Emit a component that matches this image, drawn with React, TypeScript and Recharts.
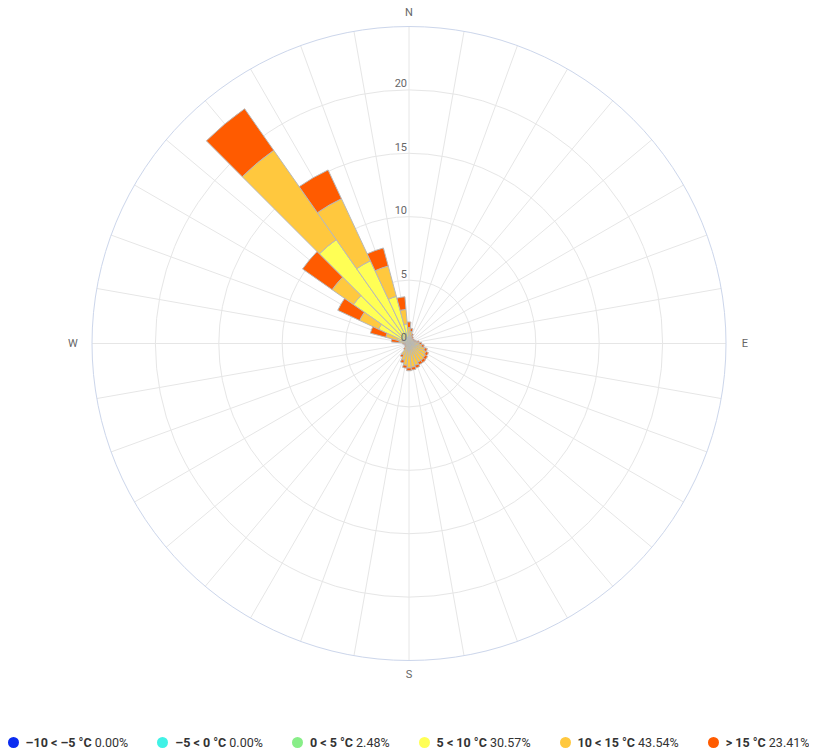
import {
  RadialBarChart,
  RadialBar,
  PolarGrid,
  PolarAngleAxis,
  PolarRadiusAxis,
  Legend,
} from "recharts"

// wind directions, clockwise from north, 10 degree steps
const directions = [
  "0", "10", "20", "30", "40", "50", "60", "70", "80",
  "90", "100", "110", "120", "130", "140", "150", "160", "170",
  "180", "190", "200", "210", "220", "230", "240", "250", "260",
  "270", "280", "290", "300", "310", "320", "330", "340", "350",
]

const compassNames: Record<string, string> = { "0": "N", "90": "E", "180": "S", "270": "W" }

const radiusTicks = [0, 5, 10, 15, 20]

// frequency per direction (%) for each temperature band
const below5 = [
  0, 0, 0, 0, 0, 0, 0, 0, 0, 0, 0, 0, 0, 0, 0, 0, 0, 0,
  0, 0, 0, 0, 0, 0, 0, 0, 0, 0, 0, 0, 0, 0, 0, 0, 0, 0,
]
const below0 = [
  0, 0, 0, 0, 0, 0, 0, 0, 0, 0, 0, 0, 0, 0, 0, 0, 0, 0,
  0, 0, 0, 0, 0, 0, 0, 0, 0, 0, 0, 0, 0, 0, 0, 0, 0, 0,
]
const from0to5 = [
  0.05, 0.05, 0.05, 0.05, 0.05, 0.05, 0.05, 0.05, 0.05, 0.05, 0.05, 0.05,
  0.05, 0.05, 0.05, 0.05, 0.05, 0.05, 0.05, 0.05, 0.05, 0.05, 0.05, 0.05,
  0.05, 0.05, 0.05, 0.05, 0.05, 0.1, 0.15, 0.2, 0.3, 0.25, 0.2, 0.1,
]
const from5to10 = [
  0.15, 0.1, 0.07, 0.05, 0.05, 0.05, 0.05, 0.05, 0.07, 0.1, 0.12, 0.15,
  0.18, 0.2, 0.22, 0.22, 0.24, 0.25, 0.26, 0.24, 0.2, 0.15, 0.08, 0.05,
  0.04, 0.04, 0.05, 0.06, 0.25, 0.85, 2.5, 5.15, 9.7, 6.95, 3.65, 1.45,
]
const from10to15 = [
  1.05, 0.8, 0.5, 0.38, 0.32, 0.32, 0.33, 0.38, 0.5, 0.65, 0.83, 1.08,
  1.25, 1.33, 1.36, 1.36, 1.49, 1.58, 1.62, 1.44, 1.13, 0.8, 0.35, 0.22,
  0.18, 0.18, 0.2, 0.24, 0.5, 0.95, 1.65, 2.05, 8.6, 5.4, 2.48, 1.15,
]
const above15 = [
  0.45, 0.25, 0.18, 0.12, 0.08, 0.08, 0.07, 0.12, 0.18, 0.2, 0.2, 0.22,
  0.22, 0.22, 0.22, 0.22, 0.22, 0.22, 0.22, 0.22, 0.22, 0.2, 0.12, 0.08,
  0.08, 0.08, 0.1, 0.15, 0.6, 1.25, 1.9, 2.85, 4.0, 2.5, 1.47, 1.0,
]

const seriesNames = ["–10 < –5 °C", "–5 < 0 °C", "0 < 5 °C", "5 < 10 °C", "10 < 15 °C", "> 15 °C"]
const seriesShares = [0, 0, 2.48, 30.57, 43.54, 23.41]
const seriesColors = ["#0b2cf0", "#40f2e6", "#88ee88", "#ffff55", "#ffc83e", "#ff5b00"]
const seriesValues = [below5, below0, from0to5, from5to10, from10to15, above15]
const seriesKeys = ["s0", "s1", "s2", "s3", "s4", "s5"]

const rows = directions.map((dir, i) => {
  const row: Record<string, number | string> = { dir }
  seriesKeys.forEach((k, s) => {
    row[k] = seriesValues[s][i]
  })
  return row
})

// grid spokes go through the middle of each direction sector
const spokeAngles = directions.map((d) => 90 - Number(d))

const CX = 409
const CY = 343.5
const FONT = "Roboto, 'Segoe UI', Arial, sans-serif"

const AngleTick = (props: any) => {
  const { payload } = props
  const label = compassNames[payload.value]
  if (!label) return <g />
  const rad = ((90 - Number(payload.value)) * Math.PI) / 180
  const c = Math.cos(rad)
  const dist = 331 + 5 * Math.abs(c)
  const x = CX + dist * c
  const y = CY - dist * Math.sin(rad)
  return (
    <text x={x} y={y} textAnchor="middle" dominantBaseline="central" fill="#666666" fontSize={11} fontFamily={FONT}>
      {label}
    </text>
  )
}

const RadiusTick = ({ x, y, payload }: any) => (
  <text x={x - 2} y={y - 6} textAnchor="end" dominantBaseline="central" fill="#666666" fontSize={11} fontFamily={FONT}>
    {payload.value}
  </text>
)

const LegendContent = () => (
  <div
    style={{
      display: "flex",
      justifyContent: "center",
      gap: 29,
      fontFamily: FONT,
      fontSize: 12.5,
      color: "#333333",
      whiteSpace: "nowrap",
    }}
  >
    {seriesNames.map((name, i) => (
      <span key={name} style={{ display: "flex", alignItems: "center" }}>
        <span
          style={{
            width: 11,
            height: 11,
            borderRadius: "50%",
            background: seriesColors[i],
            marginRight: 7,
            display: "inline-block",
          }}
        />
        <b>{name}</b>&nbsp;{seriesShares[i].toFixed(2)}%
      </span>
    ))}
  </div>
)

export default function App() {
  return (
    <div style={{ margin: "-8px 0 0 -8px", width: 817, height: 753 }}>
      <RadialBarChart
        width={817}
        height={753}
        data={rows}
        cx={CX}
        cy={CY}
        innerRadius={0}
        outerRadius={317}
        startAngle={85}
        endAngle={-275}
        layout="centric"
        barCategoryGap={0}
        barGap={0}
      >
        <PolarGrid gridType="circle" stroke="#e6e6e6" polarAngles={spokeAngles} />
        <PolarAngleAxis
          type="category"
          dataKey="dir"
          axisLineType="circle"
          stroke="#ccd6eb"
          tickLine={false}
          tick={AngleTick}
        />
        <PolarRadiusAxis
          type="number"
          angle={90}
          domain={[0, 25]}
          ticks={radiusTicks}
          axisLine={false}
          tickLine={false}
          tick={RadiusTick}
        />
        {seriesKeys.map((k, i) => (
          <RadialBar
            key={k}
            dataKey={k}
            name={seriesNames[i]}
            stackId="wind"
            fill={seriesColors[i]}
            stroke="#b8b8b8"
            strokeWidth={1}
            isAnimationActive={false}
          />
        ))}
        <Legend
          content={LegendContent}
          wrapperStyle={{ position: "absolute", top: 735, left: 0, width: 817 }}
        />
      </RadialBarChart>
    </div>
  )
}
